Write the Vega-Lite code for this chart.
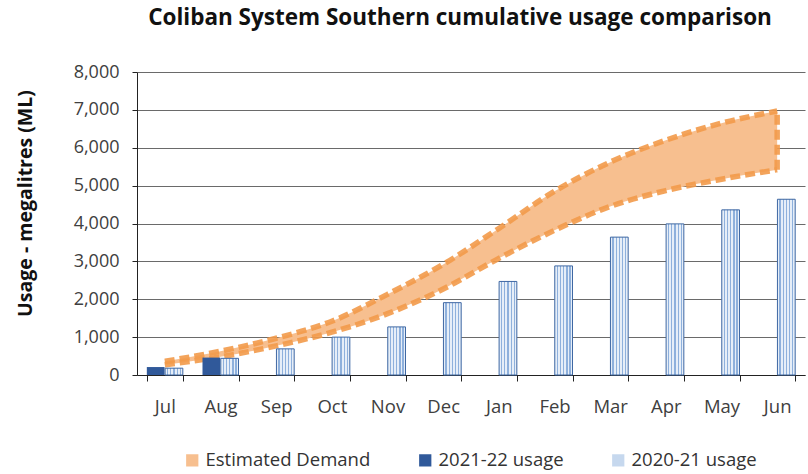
{
  "$schema": "https://vega.github.io/schema/vega-lite/v6.json",
  "width": 668,
  "height": 303,
  "autosize": {"type": "none"},
  "padding": {"left": 137, "top": 72, "right": 3, "bottom": 99},
  "background": "white",
  "title": {
    "text": "Coliban System Southern cumulative usage comparison",
    "font": "Open Sans",
    "fontSize": 22.5,
    "fontWeight": "bold",
    "color": "#111111",
    "anchor": "middle",
    "dx": -11,
    "offset": 34
  },
  "config": {
    "view": {"stroke": null},
    "font": "Open Sans",
    "axis": {"labelFont": "Open Sans", "titleFont": "Open Sans"}
  },
  "datasets": {
    "band": [
      {"month": "Jul", "low": 270, "high": 360},
      {"month": "Aug", "low": 480, "high": 630},
      {"month": "Sep", "low": 770, "high": 970},
      {"month": "Oct", "low": 1130, "high": 1420},
      {"month": "Nov", "low": 1620, "high": 2130},
      {"month": "Dec", "low": 2270, "high": 2920},
      {"month": "Jan", "low": 3080, "high": 3870},
      {"month": "Feb", "low": 3820, "high": 4850},
      {"month": "Mar", "low": 4450, "high": 5620},
      {"month": "Apr", "low": 4870, "high": 6200},
      {"month": "May", "low": 5170, "high": 6650},
      {"month": "Jun", "low": 5420, "high": 6970}
    ],
    "bars": [
      {"month": "Jul", "series": "2021-22 usage", "value": 210},
      {"month": "Aug", "series": "2021-22 usage", "value": 460},
      {"month": "Jul", "series": "2020-21 usage", "value": 180},
      {"month": "Aug", "series": "2020-21 usage", "value": 440},
      {"month": "Sep", "series": "2020-21 usage", "value": 690},
      {"month": "Oct", "series": "2020-21 usage", "value": 1000},
      {"month": "Nov", "series": "2020-21 usage", "value": 1270},
      {"month": "Dec", "series": "2020-21 usage", "value": 1910},
      {"month": "Jan", "series": "2020-21 usage", "value": 2470},
      {"month": "Feb", "series": "2020-21 usage", "value": 2880},
      {"month": "Mar", "series": "2020-21 usage", "value": 3640},
      {"month": "Apr", "series": "2020-21 usage", "value": 3990},
      {"month": "May", "series": "2020-21 usage", "value": 4360},
      {"month": "Jun", "series": "2020-21 usage", "value": 4640}
    ]
  },
  "encoding": {
    "x": {
      "field": "month",
      "type": "nominal",
      "sort": ["Jul","Aug","Sep","Oct","Nov","Dec","Jan","Feb","Mar","Apr","May","Jun"],
      "scale": {"paddingInner": 0.353, "paddingOuter": 0.1765},
      "axis": {
        "title": null,
        "labelAngle": 0,
        "labelFontSize": 18.5,
        "labelColor": "#404040",
        "labelPadding": 16,
        "tickBand": "extent",
        "tickSize": 6,
        "tickColor": "#222222",
        "domainColor": "#222222",
        "grid": false
      }
    }
  },
  "layer": [
    {
      "data": {"name": "band"},
      "mark": {"type": "area", "fillOpacity": 1, "interpolate": "monotone"},
      "encoding": {
        "x": {"field": "month", "type": "nominal", "bandPosition": 0.5, "sort": ["Jul","Aug","Sep","Oct","Nov","Dec","Jan","Feb","Mar","Apr","May","Jun"]},
        "y": {
          "field": "low",
          "type": "quantitative",
          "scale": {"domain": [0, 8000], "nice": false},
          "axis": {
            "title": "Usage - megalitres (ML)",
            "titleFontSize": 19.5,
            "titleFontWeight": "bold",
            "titleColor": "#111111",
            "titleX": -112,
            "titleY": 131,
            "titleBaseline": "middle",
            "tickCount": 8,
            "format": ",.0f",
            "labelFontSize": 18,
            "labelColor": "#404040",
            "labelPadding": 13,
            "tickSize": 5,
            "tickColor": "#222222",
            "domainColor": "#222222",
            "gridColor": "#6a6a6a",
            "gridWidth": 1
          }
        },
        "y2": {"field": "high"},
        "color": {"datum": "Estimated Demand", "type": "nominal"}
      }
    },
    {
      "data": {"name": "band"},
      "mark": {"type": "line", "color": "#F29A4A", "strokeWidth": 5.5, "strokeDash": [10, 5], "opacity": 0.9, "interpolate": "monotone"},
      "encoding": {
        "x": {"field": "month", "type": "nominal", "bandPosition": 0.5, "sort": ["Jul","Aug","Sep","Oct","Nov","Dec","Jan","Feb","Mar","Apr","May","Jun"]},
        "y": {"field": "high", "type": "quantitative"}
      }
    },
    {
      "data": {"name": "band"},
      "mark": {"type": "line", "color": "#F29A4A", "strokeWidth": 5.5, "strokeDash": [10, 5], "opacity": 0.9, "interpolate": "monotone"},
      "encoding": {
        "x": {"field": "month", "type": "nominal", "bandPosition": 0.5, "sort": ["Jul","Aug","Sep","Oct","Nov","Dec","Jan","Feb","Mar","Apr","May","Jun"]},
        "y": {"field": "low", "type": "quantitative"}
      }
    },
    {
      "data": {"name": "band"},
      "transform": [{"filter": "datum.month === 'Jun'"}],
      "mark": {"type": "rule", "color": "#F29A4A", "strokeWidth": 5.5, "strokeDash": [10, 5], "opacity": 0.9},
      "encoding": {
        "x": {"field": "month", "type": "nominal", "bandPosition": 0.5, "sort": ["Jul","Aug","Sep","Oct","Nov","Dec","Jan","Feb","Mar","Apr","May","Jun"]},
        "y": {"field": "low", "type": "quantitative"},
        "y2": {"field": "high"}
      }
    },
    {
      "data": {"name": "bars"},
      "mark": {"type": "bar"},
      "encoding": {
        "xOffset": {"field": "series", "type": "nominal", "scale": {"domain": ["2021-22 usage", "2020-21 usage"], "paddingInner": 0.03}},
        "y": {"field": "value", "type": "quantitative"},
        "color": {
          "field": "series",
          "type": "nominal",
          "scale": {
            "domain": ["Estimated Demand", "2021-22 usage", "2020-21 usage"],
            "range": ["#F7BF8F", "#30599A", "#C6D8EE"]
          },
          "legend": {
            "title": null,
            "orient": "none",
            "direction": "horizontal",
            "legendX": 46,
            "legendY": 379,
            "symbolType": "square",
            "symbolSize": 150,
            "symbolStrokeWidth": 0,
            "labelFontSize": 18.5,
            "labelLimit": 400,
            "labelColor": "#333333",
            "labelOffset": 4,
            "columnPadding": 45,
            "padding": 0
          }
        }
      }
    },
    {
      "data": {"name": "bars"},
      "transform": [{"filter": "datum.series === '2020-21 usage'"}],
      "mark": {
        "type": "bar",
        "stroke": "#3F68A3",
        "strokeWidth": 1,
        "fill": {
          "gradient": "linear",
          "x1": 0, "x2": 1, "y1": 0, "y2": 0,
          "stops": [
            {"offset": 0, "color": "#E6EEF8"},
            {"offset": 0.11, "color": "#E6EEF8"},
            {"offset": 0.11, "color": "#8EB0DC"},
            {"offset": 0.18, "color": "#8EB0DC"},
            {"offset": 0.18, "color": "#E6EEF8"},
            {"offset": 0.29, "color": "#E6EEF8"},
            {"offset": 0.29, "color": "#8EB0DC"},
            {"offset": 0.36, "color": "#8EB0DC"},
            {"offset": 0.36, "color": "#E6EEF8"},
            {"offset": 0.47, "color": "#E6EEF8"},
            {"offset": 0.47, "color": "#8EB0DC"},
            {"offset": 0.54, "color": "#8EB0DC"},
            {"offset": 0.54, "color": "#E6EEF8"},
            {"offset": 0.65, "color": "#E6EEF8"},
            {"offset": 0.65, "color": "#8EB0DC"},
            {"offset": 0.72, "color": "#8EB0DC"},
            {"offset": 0.72, "color": "#E6EEF8"},
            {"offset": 0.83, "color": "#E6EEF8"},
            {"offset": 0.83, "color": "#8EB0DC"},
            {"offset": 0.9, "color": "#8EB0DC"},
            {"offset": 0.9, "color": "#E6EEF8"},
            {"offset": 1, "color": "#E6EEF8"}
          ]
        }
      },
      "encoding": {
        "xOffset": {"field": "series", "type": "nominal"},
        "y": {"field": "value", "type": "quantitative"}
      }
    }
  ]
}
